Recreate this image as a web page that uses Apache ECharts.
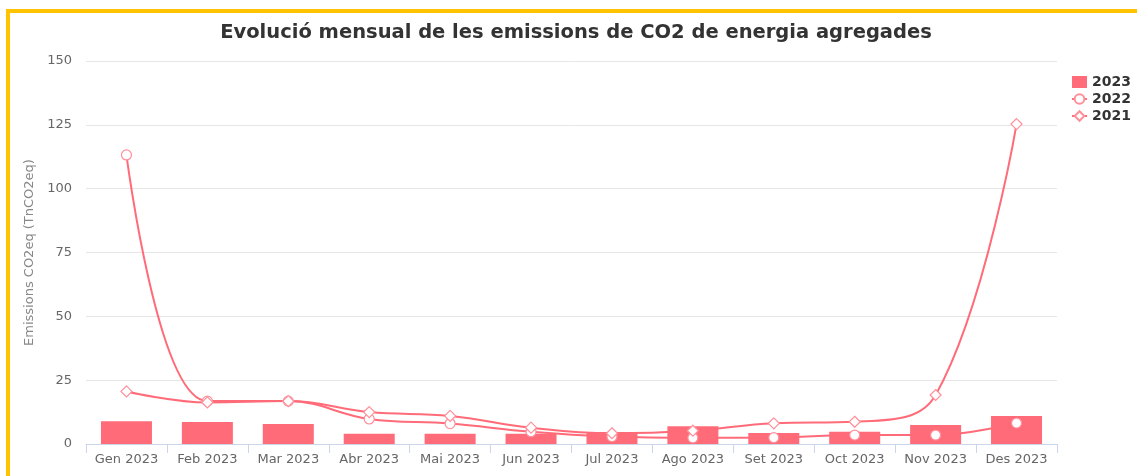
<!DOCTYPE html>
<html>
<head>
<meta charset="utf-8">
<script src="https://cdn.jsdelivr.net/npm/echarts@6/dist/echarts.min.js"></script>
<style>
html,body{margin:0;padding:0;background:#fff;overflow:hidden;}
#chart{position:absolute;left:0;top:0;width:1137px;height:476px;}
#frame{position:absolute;left:6px;top:9px;width:1200px;height:600px;border:4px solid #ffc300;pointer-events:none;box-sizing:border-box;}
</style>
</head>
<body>
<div id="chart"></div>
<div id="frame"></div>
<script>
const categories = ['Gen 2023','Feb 2023','Mar 2023','Abr 2023','Mai 2023','Jun 2023','Jul 2023','Ago 2023','Set 2023','Oct 2023','Nov 2023','Des 2023'];
const values2023 = [8.9, 8.6, 7.8, 4.0, 4.0, 4.0, 4.7, 7.0, 4.3, 4.8, 7.4, 11.0];
const values2022 = [113.2, 16.8, 16.8, 9.8, 8.0, 4.8, 2.9, 2.4, 2.5, 3.5, 3.5, 8.2];
const values2021 = [20.6, 16.3, 16.8, 12.5, 11.0, 6.4, 4.2, 5.2, 8.1, 8.7, 19.2, 125.3];
const yTicks = [0, 25, 50, 75, 100, 125, 150];

const chart = echarts.init(document.getElementById('chart'), null, {renderer:'canvas'});
const red = '#ff6b78';
const font = "'DejaVu Sans'";
chart.setOption({
  animation:false,
  textStyle:{fontFamily:font},
  title:{
    text:'Evolució mensual de les emissions de CO2 de energia agregades',
    left:571, textAlign:'center', top:18,
    textStyle:{fontFamily:font, fontSize:19.5, fontWeight:'bold', color:'#333'}
  },
  legend:{
    orient:'vertical', left:1066, top:70, itemWidth:15, itemHeight:12, itemGap:3,
    textStyle:{fontFamily:font, fontSize:14, fontWeight:'bold', color:'#333'},
    data:[
      {name:'2023', icon:'rect'},
      {name:'2022'},
      {name:'2021'}
    ]
  },
  grid:{left:86, right:80, top:61, bottom:32, containLabel:false},
  xAxis:{
    type:'category', data:categories, boundaryGap:true,
    axisLine:{lineStyle:{color:'#ccd6eb'}},
    axisTick:{show:true, length:9, interval:0, lineStyle:{color:'#ccd6eb'}},
    axisLabel:{color:'#666', fontSize:13, fontFamily:font, margin:9, interval:0}
  },
  yAxis:{
    type:'value', min:0, max:150, interval:25,
    name:'Emissions CO2eq (TnCO2eq)', nameLocation:'middle', nameGap:47,
    nameTextStyle:{color:'#888', fontSize:13, fontFamily:font},
    axisLine:{show:false}, axisTick:{show:false},
    axisLabel:{color:'#666', fontSize:13, fontFamily:font, margin:14},
    splitLine:{lineStyle:{color:'#e6e6e6'}}
  },
  series:[
    {name:'2023', type:'bar', data:values2023, barWidth:51, itemStyle:{color:red}, z:1},
    {name:'2022', type:'line', data:values2022, smooth:0.4, symbol:'circle', symbolSize:10,
     lineStyle:{color:red, width:2}, itemStyle:{color:'#fff', borderColor:'#ff8f9a', borderWidth:1.2}, z:3},
    {name:'2021', type:'line', data:values2021, smooth:0.4, symbol:'diamond', symbolSize:11,
     lineStyle:{color:red, width:2}, itemStyle:{color:'#fff', borderColor:'#ff8f9a', borderWidth:1.2}, z:3}
  ]
});
</script>
</body>
</html>
